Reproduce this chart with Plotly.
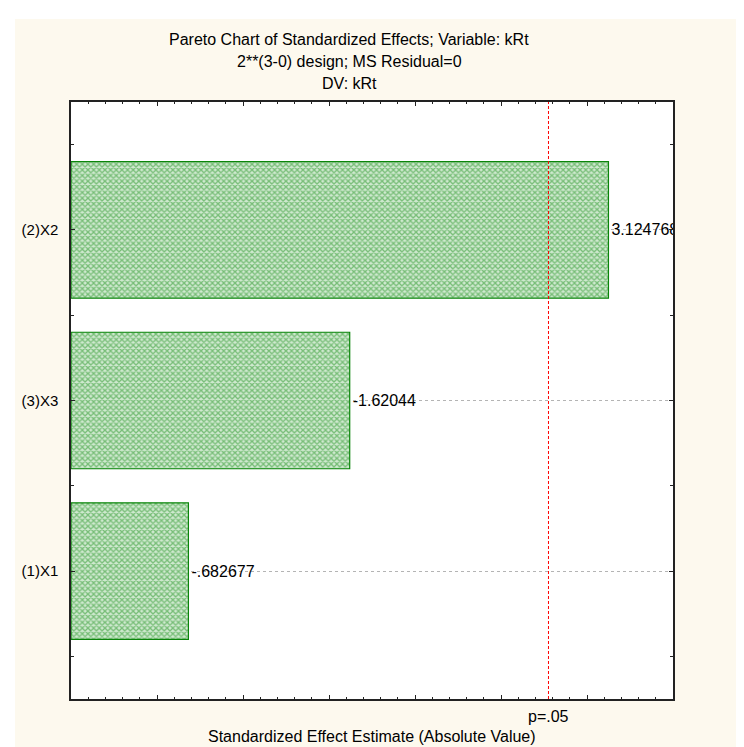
import plotly.graph_objects as go

# effects, bottom to top as drawn
factors = ["(1)X1", "(3)X3", "(2)X2"]
effects = [-0.682677, -1.62044, 3.124768]
effect_labels = ["-.682677", "-1.62044", "3.124768"]
t_crit = 2.776  # p=.05, df=4

title_lines = [
    "Pareto Chart of Standardized Effects; Variable: kRt",
    "2**(3-0) design; MS Residual=0",
    "DV: kRt",
]

FONT = "Liberation Sans, Arial, sans-serif"
cream = "#fdf9ee"

ypos = list(range(len(factors)))

fig = go.Figure()
fig.add_trace(go.Bar(
    x=[abs(v) for v in effects],
    y=ypos,
    orientation="h",
    width=0.8,
    text=effect_labels,
    textposition="outside",
    cliponaxis=True,
    constraintext="none",
    textfont=dict(family=FONT, size=16, color="black"),
    marker=dict(
        color="#c4e4c4",
        line=dict(color="#0a850a", width=1.2),
        pattern=dict(shape="x", fgcolor="#1f911f", bgcolor="#cfe9cf",
                     size=4, solidity=0.55),
    ),
    showlegend=False,
    hoverinfo="skip",
))

shapes = [
    # cream page with a thin white strip top/left
    dict(type="rect", xref="paper", yref="paper", x0=-0.093, x1=1.15,
         y0=-0.1, y1=1.139, fillcolor=cream, line=dict(width=0), layer="below"),
    dict(type="rect", xref="paper", yref="paper", x0=0, x1=1, y0=0, y1=1,
         fillcolor="white", line=dict(width=0), layer="below"),
    dict(type="line", xref="x", yref="paper", x0=t_crit, x1=t_crit, y0=0, y1=1,
         line=dict(color="red", width=1, dash="3px,2px")),
]

annotations = []
for i, line in enumerate(title_lines):
    annotations.append(dict(
        text=line, xref="paper", yref="paper", x=0.462, y=[1.104, 1.068, 1.031][i],
        xanchor="center", yanchor="middle", showarrow=False,
        font=dict(family=FONT, size=16, color="black"),
    ))
annotations.append(dict(
    text="p=.05", xref="x", yref="paper", x=t_crit, y=-0.03,
    xanchor="center", yanchor="middle", showarrow=False,
    font=dict(family=FONT, size=16, color="black"),
))
annotations.append(dict(
    text="Standardized Effect Estimate (Absolute Value)", xref="paper", yref="paper",
    x=0.5, y=-0.063, xanchor="center", yanchor="middle", showarrow=False,
    font=dict(family=FONT, size=16, color="black"),
))

fig.update_layout(
    width=744, height=747,
    margin=dict(l=63, r=79, t=94, b=56, pad=0),
    paper_bgcolor="white",
    plot_bgcolor="white",
    font=dict(family=FONT, size=15, color="black"),
    shapes=shapes,
    annotations=annotations,
    xaxis=dict(
        range=[0, 3.5], dtick=0.5, tick0=0,
        showticklabels=False, showgrid=False, zeroline=False,
        ticks="inside", ticklen=4, tickcolor="#222",
        minor=dict(dtick=0.1, ticks="inside", ticklen=2, tickcolor="#222"),
        showline=True, linecolor="#222", linewidth=1.5, mirror="allticks",
    ),
    yaxis=dict(
        range=[-0.75, 2.75],
        tickvals=ypos, ticktext=factors,
        showgrid=True, gridcolor="#b4b4b4", griddash="dot", gridwidth=1,
        zeroline=False,
        ticks="inside", ticklen=4, tickcolor="#222",
        minor=dict(dtick=0.5, tick0=0.5, ticks="inside", ticklen=3,
                   tickcolor="#222", showgrid=False),
        ticklabelstandoff=8,
        tickfont=dict(family=FONT, size=15),
        showline=True, linecolor="#222", linewidth=1.5, mirror="allticks",
    ),
)

fig.write_html("out.html")
